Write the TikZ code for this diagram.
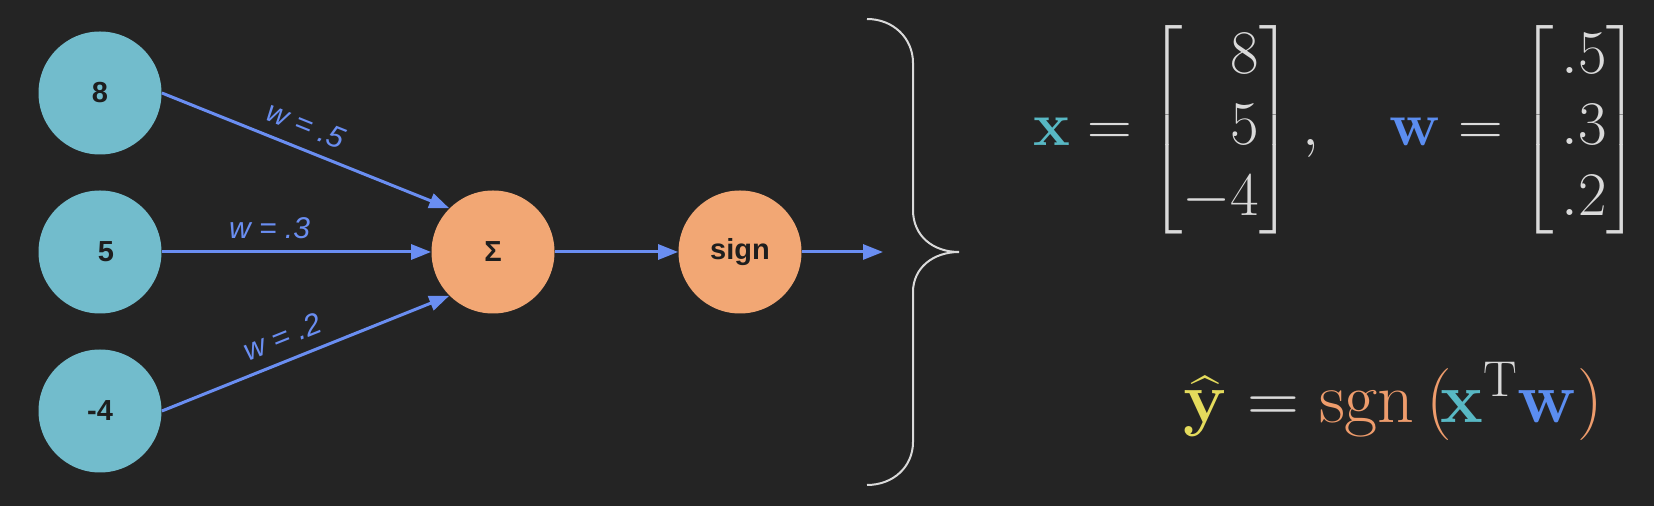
\RequirePackage{fix-cm}
\documentclass[tikz,border=0pt]{standalone}
\usepackage[no-math]{fontspec}
\usepackage{amsmath}
\usetikzlibrary{arrows.meta}
\newfontfamily\nodefont{Liberation Sans}
\definecolor{bgcol}{HTML}{242424}
\definecolor{incol}{HTML}{72BCCC}
\definecolor{sumcol}{HTML}{F2A774}
\definecolor{linkcol}{HTML}{6A8EF2}
\definecolor{txtcol}{HTML}{1E1E1E}
\definecolor{bracecol}{HTML}{DADADA}
\definecolor{xcol}{HTML}{58B8C4}
\definecolor{wcol}{HTML}{5B8DF0}
\definecolor{ycol}{HTML}{E4DB5C}
\definecolor{sgncol}{HTML}{EE9C6C}

\begin{document}
\begin{tikzpicture}[x=0.5pt,y=-0.5pt,
    neuron/.style={circle, minimum size=61.5pt, inner sep=0pt, text=txtcol,
        font=\nodefont\bfseries\fontsize{14.5}{16}\selectfont},
    input/.style={neuron, fill=incol},
    unit/.style={neuron, fill=sumcol},
    link/.style={draw=linkcol, line width=1.5pt, -{Triangle[length=10pt,width=7.5pt]}},
    wlabel/.style={sloped, above=4pt, inner sep=2pt, text=linkcol,
        font=\nodefont\itshape\fontsize{15}{17}\selectfont}]
        % Hintergrund
        \useasboundingbox (0,0) rectangle (1654,506);
        \fill[bgcol] (0,0) rectangle (1654,506);
        % Eingaben
        \node[input] (x1) at (100,93)  {8};
        \node[input] (x2) at (100,252) {\kern6pt5};
        \node[input] (x3) at (100,411) {-4};
        % Summe und Vorzeichen
        \node[unit] (sum) at (493,252) {Σ};
        \node[unit] (sgn) at (740,252) {sign};
        \coordinate (out) at (883,252);
        % Kanten
        \draw[link] (x1.east) -- node[wlabel, pos=.47] {w = .5} (sum.135);
        \draw[link] (x2.east) -- node[wlabel, pos=.40] {w = .3} (sum.west);
        \draw[link] (x3.east) -- node[wlabel, pos=.45] {w = .2} (sum.225);
        \draw[link] (sum) -- (sgn);
        \draw[link] (sgn) -- (out);
        % Klammer
        \draw[bracecol, line width=1pt]
            (867,19) .. controls (893,19) and (913,38) .. (913,63)
            -- (913,210) .. controls (913,236) and (933,252) .. (959,252)
            .. controls (933,252) and (913,268) .. (913,292)
            -- (913,442) .. controls (913,467) and (893,485) .. (867,485);
        % Formeln
        \node[anchor=west, inner sep=0pt, text=bracecol, font=\fontsize{31}{35.5}\selectfont] (vecs) at (1033,130)
            {$\textcolor{xcol}{\mathbf{x}} = \left[\begin{array}{@{}r@{}} 8\\ 5\\ -4 \end{array}\right],\hspace{30pt}\textcolor{wcol}{\mathbf{w}} = \left[\begin{array}{@{\hspace{4pt}}c@{}} .5\\ .3\\ .2 \end{array}\right]$};
        \node[anchor=base west, inner sep=0pt, text=bracecol, font=\fontsize{36}{42}\selectfont] (yhat) at (1183,423)
            {$\textcolor{ycol}{\widehat{\mathbf{y}}} = \textcolor{sgncol}{\operatorname{sgn}\mskip3mu(}\mskip-3mu\textcolor{xcol}{\mathbf{x}}^{\mathrm{T}}\textcolor{wcol}{\mathbf{w}}\textcolor{sgncol}{)}$};
\end{tikzpicture}
\end{document}
